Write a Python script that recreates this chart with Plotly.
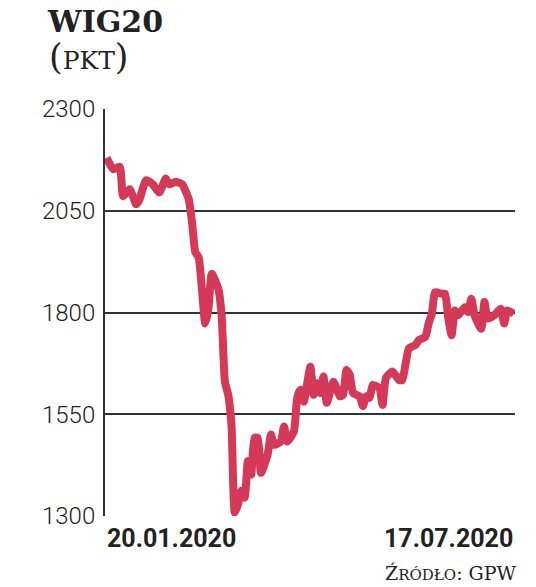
import plotly.graph_objects as go

# trading session index (0 = 20.01.2020, 124 = 17.07.2020)
sessions = [0, 2, 4, 5, 7, 9, 10, 12, 14, 16, 18, 19, 21, 23, 24, 25, 26, 27, 28, 29,
            30, 31, 32, 34, 35, 36, 37, 38, 39, 40, 41, 42, 43, 44, 45, 46, 47, 49, 50, 51,
            53, 54, 55, 57, 58, 59, 60, 62, 63, 64, 65, 66, 67, 69, 70, 71, 72, 73, 74, 75,
            77, 78, 79, 80, 81, 83, 84, 85, 87, 89, 90, 92, 94, 95, 97, 98, 99, 100, 102, 103,
            104, 105, 106, 107, 109, 110, 111, 112, 114, 115, 116, 118, 120, 121, 122, 124]
wig20 = [2180, 2152, 2158, 2086, 2103, 2066, 2078, 2125, 2115, 2095, 2129, 2115, 2121, 2115, 2099, 2078, 2021, 1948, 1936, 1858,
         1773, 1810, 1895, 1858, 1793, 1630, 1598, 1524, 1308, 1329, 1362, 1345, 1435, 1402, 1492, 1492, 1406, 1451, 1500, 1475,
         1483, 1520, 1483, 1508, 1590, 1610, 1581, 1667, 1598, 1626, 1602, 1643, 1578, 1630, 1614, 1594, 1598, 1659, 1647, 1602,
         1594, 1570, 1594, 1590, 1622, 1614, 1573, 1639, 1655, 1634, 1634, 1712, 1720, 1732, 1740, 1773, 1797, 1850, 1846, 1846,
         1785, 1744, 1805, 1793, 1813, 1801, 1834, 1793, 1760, 1826, 1785, 1793, 1809, 1773, 1805, 1797]

x_tick_labels = ["20.01.2020", "17.07.2020"]
y_ticks = [1300, 1550, 1800, 2050, 2300]

LINE = "#d43a58"
INK = "#222222"
GRID = "#333333"

W, H = 536, 587
L, R, T, B = 105, 21, 109, 71
pw, ph = W - L - R, H - T - B


def px_to_paper(px, py_top):
    """convert pixel position (from top-left of page) to paper coords"""
    return (px - L) / pw, (H - py_top - B) / ph


fig = go.Figure()
fig.add_trace(go.Scatter(x=sessions, y=wig20, mode="lines",
                         line=dict(color=LINE, width=8, shape="spline", smoothing=0.5),
                         hoverinfo="skip", showlegend=False))

fig.update_layout(
    width=W, height=H,
    margin=dict(l=L, r=R, t=T, b=B, autoexpand=False),
    paper_bgcolor="white", plot_bgcolor="white",
    xaxis=dict(range=[-0.5, 124.3], showgrid=False, zeroline=False,
               showticklabels=False, showline=False, fixedrange=True),
    yaxis=dict(range=[1300, 2300], tickvals=y_ticks, ticktext=[str(v) for v in y_ticks],
               showgrid=True, gridcolor=GRID, gridwidth=2, zeroline=False,
               showline=True, linecolor=GRID, linewidth=2,
               ticks="", ticklabelstandoff=3,
               tickfont=dict(family="Roboto", size=24, color=INK, weight=300),
               fixedrange=True),
    font=dict(family="DejaVu Serif", color=INK),
    hovermode=False,
)

# x-axis labels at first and last session
for xv, lab, anchor, sh in [(sessions[0], x_tick_labels[0], "left", -2),
                            (sessions[-1], x_tick_labels[1], "right", 1)]:
    fig.add_annotation(x=xv, y=0, xref="x", yref="paper", text=lab,
                       xanchor=anchor, yanchor="top", yshift=-6, xshift=sh, showarrow=False,
                       font=dict(family="Roboto", size=25, color=INK, weight="bold"))

# title and unit
tx, ty = px_to_paper(45, 2)
fig.add_annotation(x=tx, y=ty, xref="paper", yref="paper", text="<b>WIG20</b>",
                   xanchor="left", yanchor="top", showarrow=False,
                   font=dict(family="DejaVu Serif", size=30, color=INK))
ux, uy = px_to_paper(47, 35)
fig.add_annotation(x=ux, y=uy, xref="paper", yref="paper",
                   text="<span style='font-size:35px'>(</span>PKT<span style='font-size:35px'>)</span>",
                   xanchor="left", yanchor="top", showarrow=False,
                   font=dict(family="DejaVu Serif", size=25, color=INK))

# source
sx, sy = px_to_paper(519, 586)
fig.add_annotation(x=sx, y=sy, xref="paper", yref="paper",
                   text="Ź<span style='font-size:15px'>RÓDŁO</span>: GPW",
                   xanchor="right", yanchor="bottom", showarrow=False,
                   font=dict(family="DejaVu Serif", size=19, color=INK))

fig.write_html("out.html", post_script="document.body.style.margin='0';",
               config={"displayModeBar": False, "staticPlot": True})
